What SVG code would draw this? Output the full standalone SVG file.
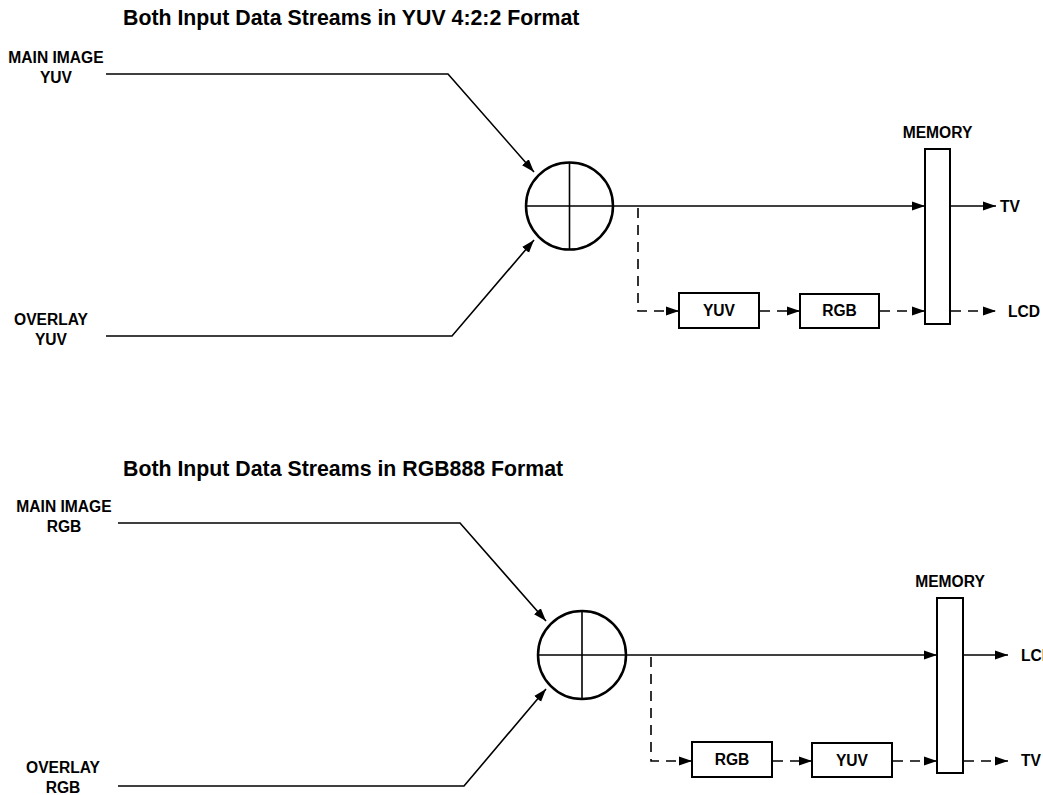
<svg xmlns="http://www.w3.org/2000/svg" width="1043" height="795" viewBox="0 0 1043 795">
<style>
text{font-family:"Liberation Sans",Arial,sans-serif;font-weight:bold;fill:#000}
.title{font-size:21.3px}
.lbl{font-size:15.6px}
.mid{text-anchor:middle}
.ln{fill:none;stroke:#000;stroke-width:1.6}
.dash{fill:none;stroke:#000;stroke-width:1.6;stroke-dasharray:10 7}
.box{fill:#fff;stroke:#000;stroke-width:2}
.circ{fill:#fff;stroke:#000;stroke-width:2.5}
</style>
<defs>
<marker id="ah" markerUnits="userSpaceOnUse" markerWidth="13" markerHeight="10" refX="13" refY="5" orient="auto">
<path d="M0,0.5 L13,5 L0,9.5 z" fill="#000"/>
</marker>
</defs>

<g id="title-top"><text class="title" x="123" y="25">Both Input Data Streams in YUV 4:2:2 Format</text></g>
<g id="main-yuv"><text class="lbl mid" x="56" y="63">MAIN IMAGE</text><text class="lbl mid" x="56" y="83">YUV</text></g>
<g id="overlay-yuv"><text class="lbl mid" x="51" y="325">OVERLAY</text><text class="lbl mid" x="51" y="345">YUV</text></g>
<g id="sum-top"><circle class="circ" cx="569.5" cy="206" r="43.5"/><path class="ln" d="M526,206 H613 M569.5,162.5 V249.5"/></g>
<g id="yuv-top"><rect class="box" x="679" y="293" width="80" height="35"/><text class="lbl mid" x="719" y="316">YUV</text></g>
<g id="rgb-top"><rect class="box" x="800" y="294" width="79" height="34"/><text class="lbl mid" x="839.5" y="316">RGB</text></g>
<g id="mem-top"><text class="lbl mid" x="937.5" y="138">MEMORY</text><rect class="box" x="925" y="149" width="25" height="175"/></g>
<g id="out-top"><text class="lbl" x="1000" y="212">TV</text><text class="lbl" x="1008" y="317">LCD</text></g>

<g id="title-bot"><text class="title" x="123" y="476">Both Input Data Streams in RGB888 Format</text></g>
<g id="main-rgb"><text class="lbl mid" x="64" y="512">MAIN IMAGE</text><text class="lbl mid" x="64" y="532">RGB</text></g>
<g id="overlay-rgb"><text class="lbl mid" x="63" y="773">OVERLAY</text><text class="lbl mid" x="63" y="793">RGB</text></g>
<g id="sum-bot"><circle class="circ" cx="582" cy="655" r="44"/><path class="ln" d="M538,655 H626 M582,611 V699"/></g>
<g id="rgb-bot"><rect class="box" x="692" y="742" width="80" height="35"/><text class="lbl mid" x="732" y="765">RGB</text></g>
<g id="yuv-bot"><rect class="box" x="812" y="743" width="80" height="34"/><text class="lbl mid" x="852" y="766">YUV</text></g>
<g id="mem-bot"><text class="lbl mid" x="950" y="587">MEMORY</text><rect class="box" x="937" y="598" width="26" height="175"/></g>
<g id="out-bot"><text class="lbl" x="1021" y="661">LCD</text><text class="lbl" x="1021" y="766">TV</text></g>

<g id="connectors">
<path class="ln" d="M106,74 H448 L534,172" marker-end="url(#ah)"/>
<path class="ln" d="M106,336 H452 L534,240" marker-end="url(#ah)"/>
<path class="ln" d="M613,206 H925" marker-end="url(#ah)"/>
<path class="ln" d="M950,206 H996" marker-end="url(#ah)"/>
<path class="dash" d="M638,208 V311 H679" marker-end="url(#ah)"/>
<path class="dash" d="M760,311 H800" marker-end="url(#ah)"/>
<path class="dash" d="M880,311 H925" marker-end="url(#ah)"/>
<path class="dash" d="M951,311 H996" marker-end="url(#ah)"/>

<path class="ln" d="M118,523 H460 L546,621" marker-end="url(#ah)"/>
<path class="ln" d="M118,786 H464 L546,689" marker-end="url(#ah)"/>
<path class="ln" d="M626,655 H937" marker-end="url(#ah)"/>
<path class="ln" d="M963,655 H1008" marker-end="url(#ah)"/>
<path class="dash" d="M651,657 V761 H692" marker-end="url(#ah)"/>
<path class="dash" d="M773,761 H812" marker-end="url(#ah)"/>
<path class="dash" d="M893,761 H937" marker-end="url(#ah)"/>
<path class="dash" d="M964,761 H1008" marker-end="url(#ah)"/>
</g>
</svg>
